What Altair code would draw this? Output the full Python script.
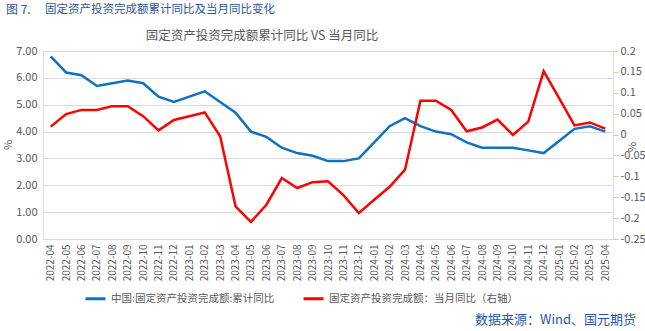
import altair as alt
import pandas as pd

months = ["2022-04","2022-05","2022-06","2022-07","2022-08","2022-09","2022-10","2022-11","2022-12",
          "2023-01","2023-02","2023-03","2023-04","2023-05","2023-06","2023-07","2023-08","2023-09","2023-10","2023-11","2023-12",
          "2024-01","2024-02","2024-03","2024-04","2024-05","2024-06","2024-07","2024-08","2024-09","2024-10","2024-11","2024-12",
          "2025-01","2025-02","2025-03","2025-04"]
cum_yoy = [6.8,6.2,6.1,5.7,5.8,5.9,5.8,5.3,5.1,
           5.3,5.5,5.1,4.7,4.0,3.8,3.4,3.2,3.1,2.9,2.9,3.0,
           3.6,4.2,4.5,4.2,4.0,3.9,3.6,3.4,3.4,3.4,3.3,3.2,
           3.65,4.1,4.2,4.0]
month_yoy = [0.019,0.049,0.059,0.059,0.068,0.068,0.044,0.010,0.035,
             0.044,0.053,-0.004,-0.172,-0.209,-0.168,-0.104,-0.128,-0.114,-0.112,-0.145,-0.188,
             -0.156,-0.125,-0.084,0.081,0.081,0.059,0.008,0.017,0.036,-0.001,0.031,0.152,
             0.087,0.022,0.029,0.014]
series_names = ["中国:固定资产投资完成额:累计同比", "固定资产投资完成额：当月同比（右轴）"]
series_colors = ["#0F72C0", "#FF0000"]
left_ticks = [0, 1, 2, 3, 4, 5, 6, 7]
right_ticks = [0.2, 0.15, 0.1, 0.05, 0, -0.05, -0.1, -0.15, -0.2, -0.25]

fig_num = "图\u00a07."
fig_title = "固定资产投资完成额累计同比及当月同比变化"
chart_title = "固定资产投资完成额累计同比 VS 当月同比"
source = "数据来源：Wind、国元期货"

df = pd.DataFrame({
    "month": months * 2,
    "series": [series_names[0]] * len(months) + [series_names[1]] * len(months),
    "value": cum_yoy + month_yoy,
})

FONT = "Noto Sans CJK SC"
GRAY = "#595959"

x_enc = alt.X("month:O", sort=months, scale=alt.Scale(padding=0.5),
              axis=alt.Axis(title=None, labelAngle=-90, labelFontSize=10, labelColor=GRAY,
                            ticks=False, domain=False, labelPadding=5, labelFont=FONT))
color_enc = alt.Color("series:N", scale=alt.Scale(domain=series_names, range=series_colors),
                      legend=alt.Legend(title=None, orient="none", direction="horizontal",
                                        legendX=41, legendY=236, symbolType="stroke",
                                        symbolSize=400, symbolStrokeWidth=3,
                                        labelFontSize=10.5, labelColor=GRAY, labelFont=FONT,
                                        labelLimit=0,
                                        columnPadding=22, padding=0, labelOffset=4))

base = alt.Chart(df)
left = base.transform_filter(alt.datum.series == series_names[0]).mark_line(strokeWidth=2.5).encode(
    x=x_enc,
    y=alt.Y("value:Q", scale=alt.Scale(domain=[0, 7], nice=False),
            axis=alt.Axis(title=None, values=left_ticks, format=".2f", grid=True, gridColor="#D9D9D9",
                          ticks=False, domain=False, labelFontSize=11, labelColor=GRAY,
                          labelPadding=6, labelFont=FONT)),
    color=color_enc,
)
right = base.transform_filter(alt.datum.series == series_names[1]).mark_line(strokeWidth=2.5).encode(
    x=x_enc,
    y=alt.Y("value:Q", scale=alt.Scale(domain=[-0.25, 0.2], nice=False, zero=False),
            axis=alt.Axis(title=None, orient="right", values=right_ticks, grid=False,
                          labelExpr="'' + (round(datum.value*100)/100)",
                          ticks=True, tickColor="#E8C39A", tickSize=5, domain=False,
                          labelFontSize=11, labelColor=GRAY, labelPadding=2, labelFont=FONT)),
    color=color_enc,
)

def label(txt, x, y, size, color, align="left", angle=0, font=FONT):
    return alt.Chart(pd.DataFrame({"t": [txt]})).mark_text(
        align=align, baseline="middle", fontSize=size, color=color, angle=angle, font=font
    ).encode(x=alt.value(x), y=alt.value(y), text="t:N")

texts = [
    label(fig_num, -37, -41, 12, "#2F5597"),
    label(fig_title, 2, -41, 11.5, "#2F5597"),
    label(chart_title, 219, -15, 12.5, GRAY, align="center"),
    label(source, 593, 269, 13, "#2B54A6", align="right"),
    label("%", -34, 94, 11, GRAY, align="center", angle=270),
    label("%", 590, 96, 11, GRAY, align="center", angle=270),
]

chart = alt.layer(left, right, *texts).resolve_scale(y="independent").properties(
    width=570, height=188,
    autosize=alt.AutoSizeParams(type="none"),
    padding={"left": 43, "top": 51, "right": 32, "bottom": 92},
).configure_view(stroke=None).configure(font=FONT)

chart.save("out.html", embed_options={"renderer": "svg", "actions": False})
